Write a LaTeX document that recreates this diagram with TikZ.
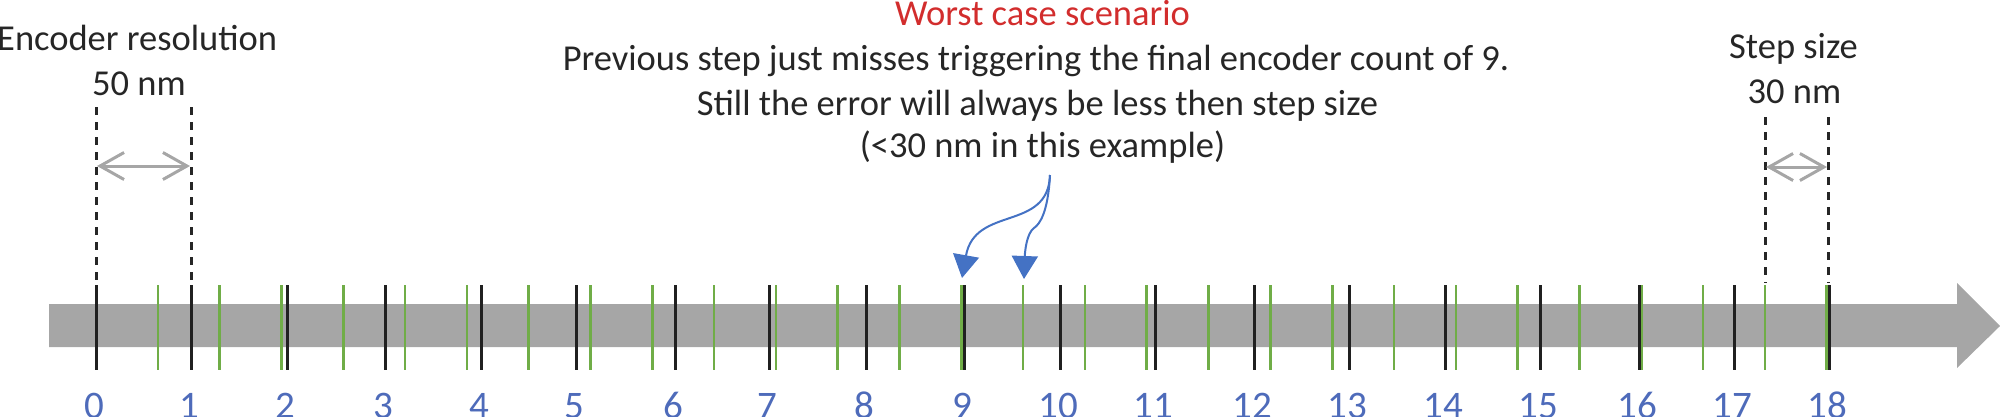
\documentclass[tikz,border=0pt]{standalone}
\usepackage{fontspec}
\setmainfont{Carlito}
\usetikzlibrary{arrows.meta}
\definecolor{txt}{RGB}{38,38,38}
\definecolor{barg}{RGB}{166,166,166}
\definecolor{dimg}{RGB}{166,166,166}
\definecolor{tgreen}{RGB}{112,173,71}
\definecolor{tblack}{RGB}{32,32,32}
\definecolor{numblue}{RGB}{78,107,186}
\definecolor{redt}{RGB}{210,45,45}
\definecolor{arrblue}{RGB}{68,114,196}
\tikzset{
  lbl/.style={inner sep=0pt, anchor=base, text=txt, font=\fontsize{36.5}{44}\selectfont},
  numlbl/.style={inner sep=0pt, anchor=base, text=numblue, font=\fontsize{39}{47}\selectfont},
  gtick/.style={draw=tgreen, line width=2.6pt},
  btick/.style={draw=tblack, line width=3pt},
  guide/.style={draw=txt, line width=3pt, dash pattern=on 8pt off 7pt},
  dimarrow/.style={draw=dimg, line width=3pt, {Straight Barb[length=24pt,width=27pt]}-{Straight Barb[length=24pt,width=27pt]}},
  callout/.style={draw=arrblue, line width=2pt, -{Triangle[length=23pt,width=26pt]}, arrblue}
}
\begin{document}
\begin{tikzpicture}[x=1pt,y=-1pt]
\useasboundingbox (0,0) rectangle (2000,416);
% main bar with arrowhead
\fill[barg] (49,304) -- (1957,304) -- (1957,283) -- (2000,326) -- (1957,368) -- (1957,347) -- (49,347) -- cycle;
% green step ticks
\foreach \k in {1,...,28} {
  \draw[gtick] ({96+61.81*\k},285) -- ({96+61.81*\k},370);
}
% black encoder ticks and numbers
\foreach \x [count=\n from 0] in {96,191,287,385.7,481,576.7,675,769.5,866,964,1060,1155,1254,1349,1445,1540,1639,1734,1829} {
  \draw[btick] (\x,285) -- (\x,370);
  \node[numlbl] (num\n) at (\x-2,418) {\n};
}
% encoder resolution
\node[lbl, anchor=base west] (encres) at (-3,50) {Encoder resolution};
\node[lbl] (enc50) at (139,95) {50 nm};
\coordinate (eA) at (96,107);
\coordinate (eAb) at (96,283);
\coordinate (eB) at (191,107);
\coordinate (eBb) at (191,283);
\draw[guide] (eA) -- (eAb);
\draw[guide] (eB) -- (eBb);
\coordinate (eL) at (97,166);
\coordinate (eR) at (190,166);
\draw[dimarrow] (eL) -- (eR);
% step size
\node[lbl] (stepsz) at (1793.5,58) {Step size};
\node[lbl] (step30) at (1794.5,103) {30 nm};
\coordinate (sA) at (1765,117);
\coordinate (sAb) at (1765,283);
\coordinate (sB) at (1828,117);
\coordinate (sBb) at (1828,283);
\draw[guide] (sA) -- (sAb);
\draw[guide] (sB) -- (sBb);
\coordinate (sL) at (1766,167);
\coordinate (sR) at (1827,167);
\draw[dimarrow] (sL) -- (sR);
% middle text
\node[lbl, text=redt] (worst) at (1042.5,25) {Worst case scenario};
\node[lbl] (line1) at (1036,70) {Previous step just misses triggering the final encoder count of 9.};
\node[lbl] (line2) at (1037.5,115) {Still the error will always be less then step size};
\node[lbl] (line3) at (1042.5,157) {(<30 nm in this example)};
% callout arrows
\coordinate (src) at (1050,175);
\coordinate (tipA) at (962,278);
\coordinate (tipB) at (1024,279);
\draw[callout] (src) .. controls (1048,232) and (975,205) .. (tipA);
\draw[callout] (src) .. controls (1048,212) and (1040,224) .. (1034,228) .. controls (1027,233) and (1025,250) .. (tipB);
\end{tikzpicture}
\end{document}
